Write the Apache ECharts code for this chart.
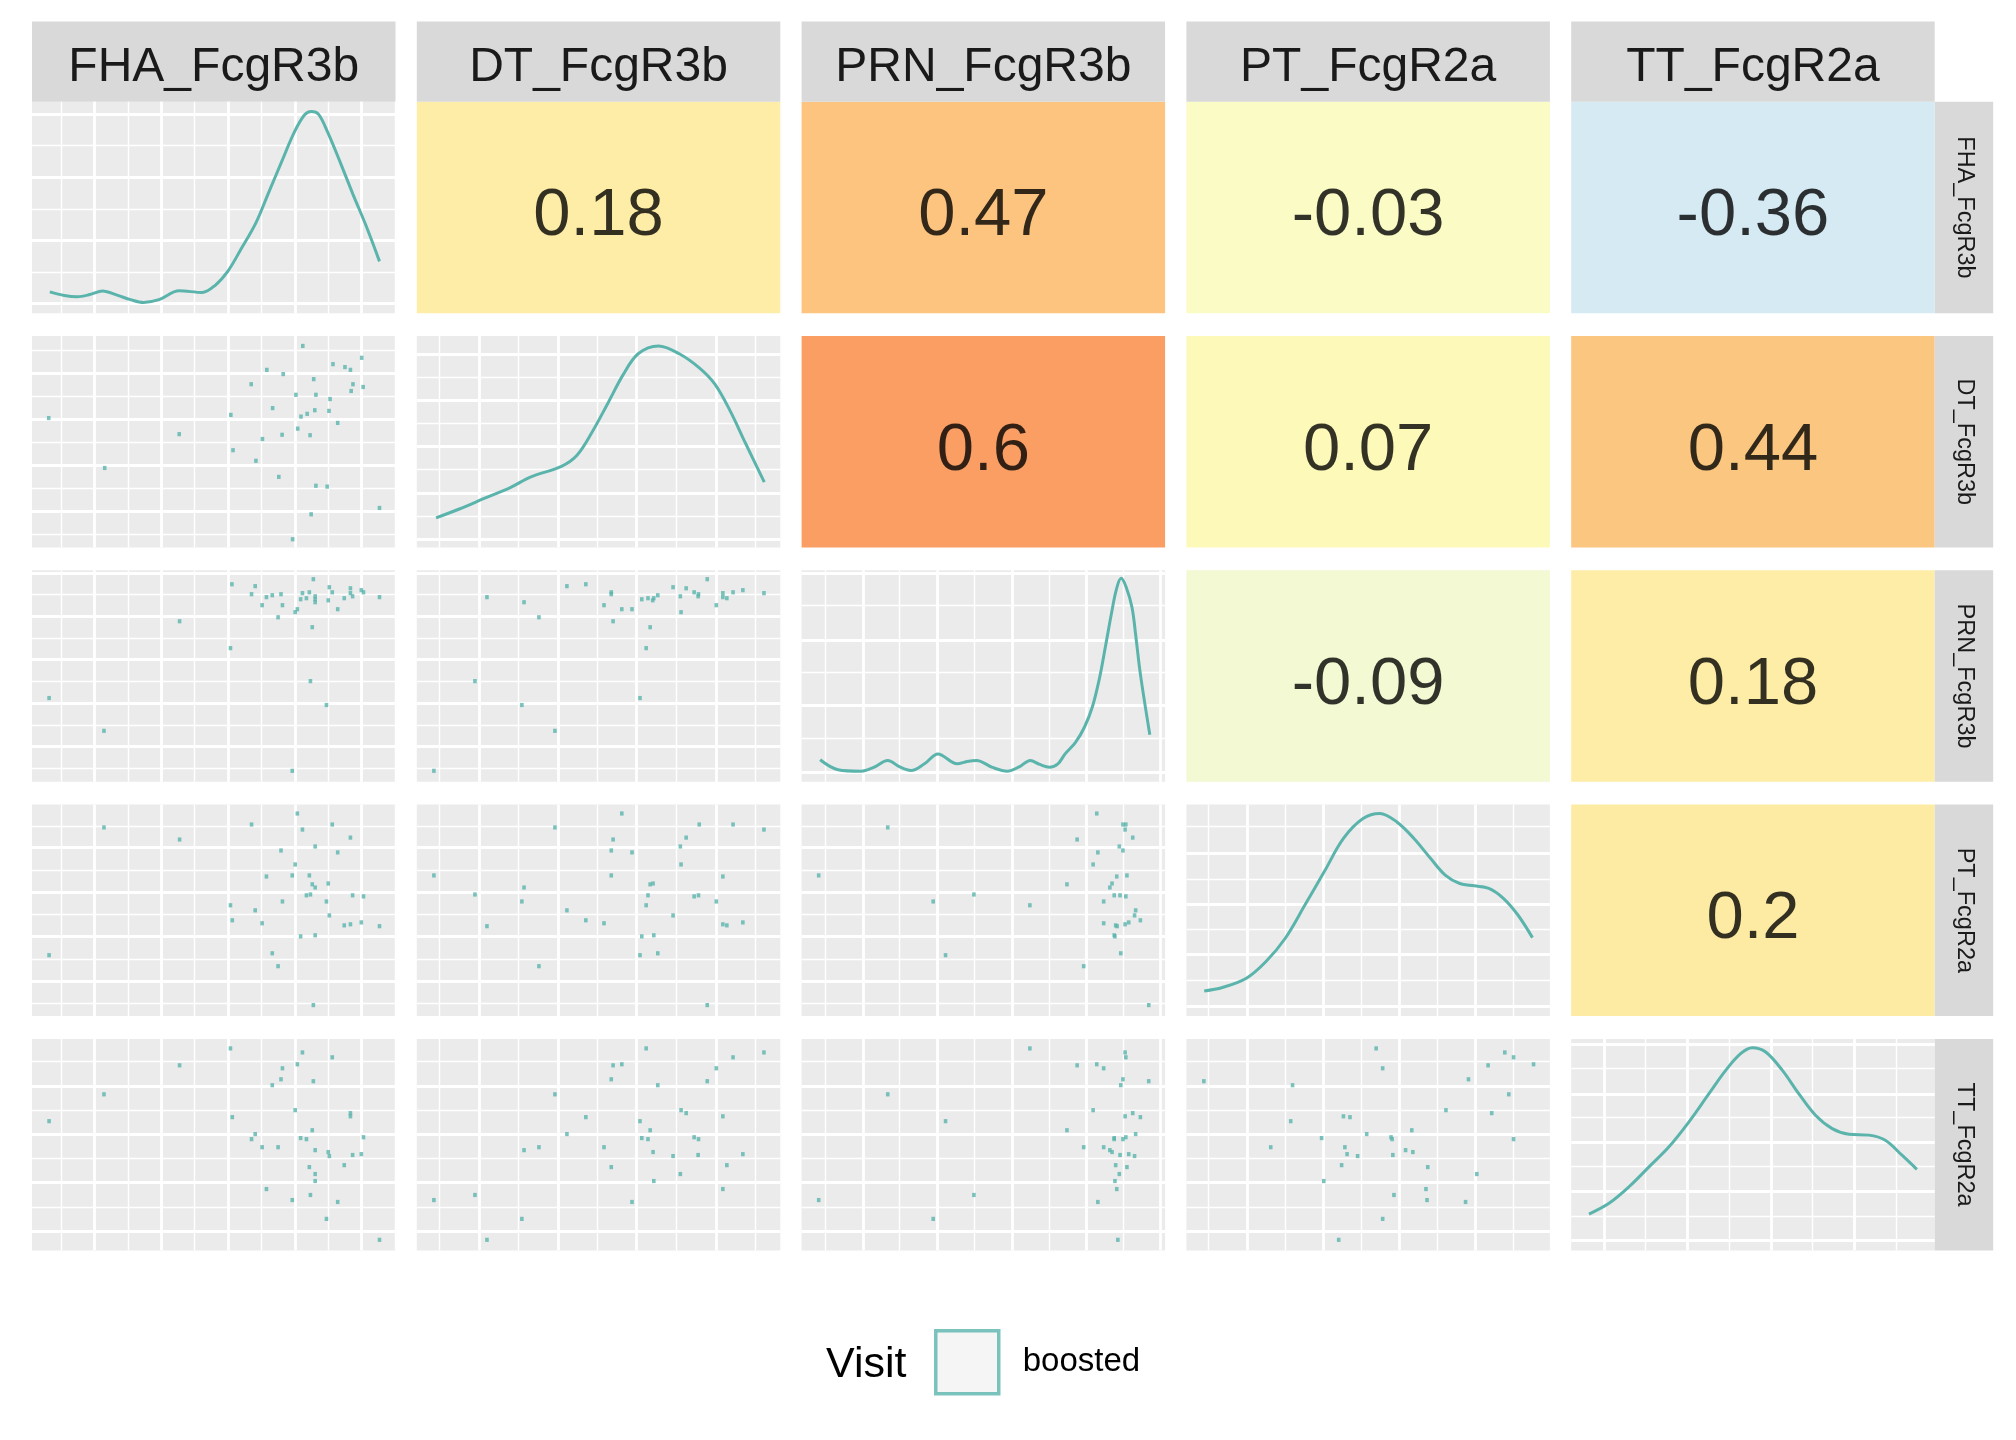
<!DOCTYPE html>
<html><head><meta charset="utf-8">
<script src="https://cdn.jsdelivr.net/npm/echarts@6/dist/echarts.min.js"></script>
<style>html,body{margin:0;padding:0;background:#fff}#c{width:2016px;height:1440px}</style>
</head><body><div id="c"></div>
<script>
// ---------- DATA (all values on each variable's 0–100 plotted scale) ----------
const variables = ['FHA_FcgR3b','DT_FcgR3b','PRN_FcgR3b','PT_FcgR2a','TT_FcgR2a'];
const shortNames = ['FHA','DT','PRN','PT','TT'];
const legendTitle = 'Visit';
const groupName = 'boosted';

// variable scale break positions (major / minor grid lines)
const majorBreaks = {FHA:[17.2,35.6,53.9,72.3,90.6], DT:[17.1,38.8,60.5,82.4], PRN:[16.9,37.3,58.0,78.4,98.7], PT:[16.7,37.6,58.5,79.6], TT:[9.0,32.0,54.9,77.8]};
const minorBreaks = {FHA:[8.0,26.4,44.7,63.1,81.4,99.8], DT:[6.3,27.9,49.7,71.5,93.2], PRN:[6.5,26.9,47.5,68.0,88.6], PT:[6.1,27.1,48.0,69.0,90.0], TT:[20.5,43.4,66.4,89.3]};
// density-axis break positions for diagonal panels
const densMajor = {FHA:[4.5,34.4,64.3,94.2], DT:[3.9,25.8,47.7,69.7,91.6], PRN:[4.7,36.0,67.1,98.4], PT:[4.7,29.1,53.0,77.2], TT:[4.8,27.9,51.3,74.0,97.6]};
const densMinor = {FHA:[19.4,49.3,79.2], DT:[14.8,36.8,58.7,80.6], PRN:[20.6,51.9,83.5], PT:[17.0,41.2,64.9,89.6], TT:[16.3,39.7,63.0,86.1]};

// correlations (upper triangle) and tile colours
const corrValues = [
  [null,'0.18','0.47','-0.03','-0.36'],
  [null,null,'0.6','0.07','0.44'],
  [null,null,null,'-0.09','0.18'],
  [null,null,null,null,'0.2'],
  [null,null,null,null,null]
];
const corrColors = [
  [null,'#FEEDA6','#FCC47E','#FAFBC5','#D5EAF3'],
  [null,null,'#FA9E64','#FDFAB9','#FBC680'],
  [null,null,null,'#F3F9D2','#FEEDA6'],
  [null,null,null,null,'#FEEBA3'],
  [null,null,null,null,null]
];

// density curves [x, density]
const dens_FHA = [[4.9,10.1],[8.9,8.4],[12.4,7.8],[15.9,8.8],[19.4,10.5],[23.6,8.4],[27.1,6.4],[30.7,5.1],[34.9,6.4],[40.5,10.6],[46.8,9.8],[50.4,13.2],[53.9,19.9],[57.4,30.0],[61.6,42.7],[65.1,57.0],[68.6,71.3],[72.2,85.7],[75.0,93.8],[76.8,95.4],[78.8,94.1],[81.3,85.7],[84.8,71.3],[88.3,56.2],[91.8,41.8],[95.6,24.5]];
const dens_DT = [[5.3,14.0],[11.7,18.2],[18.7,23.3],[25.7,28.3],[31.4,33.4],[39.8,38.4],[44.0,43.5],[48.2,54.5],[52.5,68.0],[56.7,81.5],[60.9,91.6],[66.5,95.3],[72.2,91.6],[77.8,84.8],[82.0,77.2],[86.2,64.6],[90.4,49.4],[95.6,30.9]];
const dens_PRN = [[5.1,10.4],[10.0,5.7],[16.3,5.0],[19.8,6.8],[23.7,10.1],[27.0,7.0],[30.1,5.3],[33.8,8.5],[37.5,13.2],[42.8,8.5],[45.5,9.6],[48.1,10.1],[52.5,6.8],[56.6,5.0],[60.0,7.2],[62.9,10.1],[65.5,8.2],[68.2,6.9],[70.5,8.5],[72.5,13.2],[75.3,18.5],[77.8,25.8],[80.0,35.5],[82.0,49.4],[83.7,65.0],[85.2,79.2],[86.6,91.0],[87.9,96.2],[89.3,92.0],[90.9,82.4],[92.0,68.0],[93.2,50.9],[95.8,22.2]];
const dens_PT = [[4.9,11.9],[9.9,13.5],[16.5,17.9],[21.9,25.8],[27.2,36.8],[32.6,52.5],[37.9,68.2],[43.2,84.0],[48.6,93.4],[53.2,95.8],[57.9,91.8],[62.6,84.0],[67.2,74.5],[71.2,66.7],[75.2,62.7],[79.2,61.6],[83.2,60.4],[87.2,55.7],[91.2,47.8],[95.2,37.1]];
const dens_TT = [[4.9,17.2],[10.4,22.3],[15.9,30.1],[21.4,39.5],[26.9,49.0],[32.4,60.8],[37.9,74.1],[42.5,85.1],[46.6,93.0],[49.8,95.8],[53.5,93.8],[58.1,85.1],[62.6,74.1],[67.2,63.9],[71.8,57.6],[76.4,54.9],[81.9,54.5],[86.4,52.1],[91.0,45.0],[95.1,38.3]];

// scatter points [x variable, y variable]
const pts_FHA_DT = [[74.5,95.3],[90.7,89.7],[82.8,86.7],[86.1,85.3],[87.6,84.0],[64.6,84.0],[69.1,82.0],[77.5,79.6],[60.3,77.2],[88.3,77.2],[91.1,75.9],[87.8,74.0],[72.6,72.2],[78.1,72.2],[82.0,70.2],[66.2,65.9],[77.8,64.9],[81.7,64.6],[75.7,63.2],[74.0,61.9],[4.6,61.2],[54.7,62.7],[84.1,58.9],[40.5,53.6],[73.1,56.2],[68.8,53.3],[76.5,53.1],[63.4,51.3],[55.3,46.0],[61.6,41.0],[20.0,37.6],[67.9,33.4],[78.1,29.2],[81.2,28.8],[95.6,18.7],[76.8,15.7],[71.7,3.9]];
const pts_FHA_PRN = [[55.0,93.4],[61.4,92.5],[77.4,95.8],[81.8,92.0],[87.6,91.5],[90.6,90.6],[91.2,89.6],[60.4,88.7],[64.5,87.3],[66.1,88.2],[68.5,88.7],[74.4,89.2],[76.3,89.6],[82.6,89.6],[87.6,89.2],[88.2,87.7],[73.9,86.3],[75.5,86.8],[77.9,87.7],[77.9,86.3],[77.9,84.9],[81.5,85.8],[85.9,86.8],[95.6,87.3],[63.3,83.5],[68.9,83.5],[73.0,81.6],[72.4,80.2],[84.1,81.6],[67.7,77.8],[40.6,75.9],[77.1,73.1],[54.6,63.2],[76.6,47.6],[4.7,39.6],[81.0,36.3],[19.8,24.1],[71.6,5.2]];
const pts_DT_PRN = [[41.3,92.5],[46.5,93.4],[79.9,95.8],[19.3,87.3],[29.5,84.9],[53.5,89.6],[53.5,88.7],[51.5,83.5],[56.4,81.6],[59.2,81.6],[33.6,77.8],[54.0,75.9],[61.9,86.3],[63.6,86.8],[64.9,85.8],[65.2,86.8],[66.3,88.2],[70.5,92.0],[72.5,87.7],[74.1,91.5],[76.3,89.6],[77.5,88.7],[77.4,87.7],[72.7,80.2],[82.4,83.5],[84.2,89.2],[84.2,87.3],[85.3,86.8],[87.0,89.6],[89.7,90.6],[95.5,89.2],[64.2,73.1],[63.1,63.2],[16.0,47.6],[61.4,39.6],[28.9,36.3],[38.0,24.1],[4.7,5.2]];
const pts_FHA_PT = [[73.0,95.8],[19.8,89.2],[60.4,90.6],[82.6,90.6],[74.4,88.2],[40.6,83.5],[87.6,84.4],[77.9,80.2],[68.5,78.3],[84.1,77.4],[72.4,71.7],[64.5,66.0],[71.6,66.5],[76.3,66.5],[77.1,62.3],[77.9,60.8],[81.5,62.7],[75.5,57.1],[76.6,57.5],[88.2,57.1],[91.2,56.6],[68.9,54.2],[81.0,54.2],[54.6,52.4],[61.4,50.0],[81.8,47.6],[55.1,45.3],[63.3,43.9],[85.9,42.9],[87.6,43.4],[90.6,44.3],[95.6,42.5],[73.9,37.7],[77.9,38.2],[4.7,28.8],[66.1,29.7],[67.7,23.6],[77.4,5.2]];
const pts_DT_PT = [[56.4,95.8],[38.0,89.2],[77.7,90.6],[87.0,90.6],[95.5,88.2],[54.0,83.5],[74.1,84.4],[72.5,80.2],[53.5,78.3],[59.2,77.4],[72.7,71.7],[4.7,66.5],[53.5,66.5],[84.2,66.0],[64.2,62.3],[65.0,62.7],[29.5,60.8],[16.0,57.5],[63.6,57.1],[76.3,56.6],[77.5,57.1],[28.9,54.2],[82.4,54.2],[63.1,52.4],[41.3,50.0],[70.5,47.6],[46.5,45.3],[51.5,43.9],[19.3,42.5],[84.2,43.4],[85.3,42.9],[89.7,44.3],[61.9,37.7],[65.2,38.2],[61.4,28.8],[66.3,29.7],[33.6,23.6],[79.9,5.2]];
const pts_PRN_PT = [[81.2,95.8],[23.7,89.2],[88.4,90.6],[89.2,90.6],[89.0,88.2],[91.1,84.4],[75.8,83.5],[87.4,80.2],[88.4,78.3],[81.5,77.4],[80.2,71.7],[4.7,66.5],[86.7,66.0],[89.5,66.5],[73.0,62.3],[85.4,62.7],[84.8,60.8],[47.4,57.5],[86.0,57.1],[87.6,57.1],[89.2,56.6],[36.2,54.2],[83.1,54.2],[62.8,52.4],[91.9,50.0],[91.6,47.6],[93.2,45.3],[83.1,43.9],[86.4,42.9],[86.8,42.5],[89.0,43.4],[90.0,44.3],[86.0,38.2],[86.2,37.7],[39.6,28.8],[87.8,29.7],[77.6,23.6],[95.5,5.2]];
const pts_FHA_TT = [[54.6,95.5],[74.4,93.6],[82.6,91.3],[40.6,87.5],[73.0,88.0],[68.9,86.1],[68.5,80.9],[77.4,80.0],[66.1,78.1],[19.8,73.8],[72.4,66.3],[87.6,64.9],[87.6,63.4],[4.7,61.1],[55.1,63.0],[77.1,56.8],[61.4,55.0],[60.4,52.6],[73.9,53.1],[75.5,52.6],[91.2,53.5],[63.3,48.8],[67.7,48.8],[77.9,47.4],[81.5,46.5],[81.8,44.6],[88.2,45.1],[90.6,45.5],[85.9,40.3],[76.3,39.4],[77.9,36.1],[77.9,32.8],[64.5,29.0],[76.6,26.2],[71.6,23.8],[84.1,22.9],[81.0,14.9],[95.6,5.0]];
const pts_DT_TT = [[63.1,95.5],[95.5,93.6],[87.0,91.3],[54.0,87.5],[56.4,88.0],[82.4,86.1],[53.5,80.9],[79.9,80.0],[66.3,78.1],[38.0,73.8],[72.7,66.3],[74.1,64.9],[84.2,63.4],[46.5,63.0],[61.4,61.1],[64.2,56.8],[41.3,55.0],[61.9,53.1],[63.6,52.6],[76.3,53.5],[77.5,52.6],[29.5,47.4],[33.6,48.8],[51.5,48.8],[65.0,46.5],[70.5,44.6],[77.4,45.1],[89.7,45.5],[53.5,39.4],[85.3,40.3],[72.5,36.1],[65.2,32.8],[84.2,29.0],[4.7,23.8],[16.0,26.2],[59.2,22.9],[28.9,14.9],[19.3,5.0]];
const pts_PRN_TT = [[62.8,95.5],[89.0,93.6],[89.2,91.3],[75.8,87.5],[81.2,88.0],[83.1,86.1],[88.4,80.9],[95.5,80.0],[87.8,78.1],[23.7,73.8],[80.2,66.3],[91.1,64.9],[89.0,63.4],[93.2,63.0],[39.6,61.1],[73.0,56.8],[91.9,55.0],[86.0,53.1],[89.2,53.5],[88.4,52.6],[86.0,52.6],[77.6,48.8],[83.1,48.8],[84.8,47.4],[85.4,46.5],[87.6,45.1],[90.0,45.5],[91.6,44.6],[86.4,40.3],[89.5,39.4],[87.4,36.1],[86.2,32.8],[86.7,29.0],[4.7,23.8],[47.4,26.2],[81.5,22.9],[36.2,14.9],[87.0,5.0]];
const pts_PT_TT = [[52.2,95.5],[87.6,93.6],[90.0,91.3],[83.0,87.5],[95.5,88.0],[54.0,86.1],[77.6,80.9],[4.8,80.0],[29.2,78.1],[88.7,73.8],[71.4,66.3],[84.0,64.9],[43.2,63.4],[45.0,63.0],[28.7,61.1],[62.0,56.8],[49.6,55.0],[37.2,53.1],[56.3,53.5],[56.6,52.6],[90.0,52.6],[23.2,48.8],[43.6,48.8],[60.3,47.4],[62.3,46.5],[44.2,45.5],[47.1,44.6],[56.8,45.1],[42.7,40.3],[66.4,39.4],[79.9,36.1],[37.8,32.8],[65.9,29.0],[57.1,26.2],[66.2,23.8],[76.8,22.9],[54.0,14.9],[41.9,5.0]];

// ---------- BUILD ----------
const FONT = '"Liberation Sans", Arial, sans-serif';
const TEAL = '#5AB4AC';
const W = 363.5, H = 211.5;
const colX = [32, 416.8, 801.6, 1186.4, 1571.2];
const rowY = [101.7, 336.0, 570.3, 804.6, 1038.9];
const stripTop = 21.5, stripRightW = 58.5;

const densities = {FHA:dens_FHA, DT:dens_DT, PRN:dens_PRN, PT:dens_PT, TT:dens_TT};
const scatterPanels = {
  '1,0':pts_FHA_DT, '2,0':pts_FHA_PRN, '2,1':pts_DT_PRN,
  '3,0':pts_FHA_PT, '3,1':pts_DT_PT, '3,2':pts_PRN_PT,
  '4,0':pts_FHA_TT, '4,1':pts_DT_TT, '4,2':pts_PRN_TT, '4,3':pts_PT_TT
};

const grids = [], xAxes = [], yAxes = [], series = [], graphics = [];
function addGrid(r, c, bg) {
  grids.push({left: colX[c], top: rowY[r], width: W, height: H, show: true, backgroundColor: bg, borderWidth: 0});
  const i = grids.length - 1;
  xAxes.push({gridIndex: i, type: 'value', min: 0, max: 100, show: false, splitLine: {show: false}});
  yAxes.push({gridIndex: i, type: 'value', min: 0, max: 100, show: false, splitLine: {show: false}});
  return i;
}
function gridLineSeries(i, xMaj, xMin, yMaj, yMin) {
  const d = [];
  xMin.forEach(v => d.push({xAxis: v, lineStyle: {width: 1.4}}));
  yMin.forEach(v => d.push({yAxis: v, lineStyle: {width: 1.4}}));
  xMaj.forEach(v => d.push({xAxis: v, lineStyle: {width: 2.8}}));
  yMaj.forEach(v => d.push({yAxis: v, lineStyle: {width: 2.8}}));
  series.push({type: 'line', name: 'grid', xAxisIndex: i, yAxisIndex: i, data: [], z: 1, silent: true,
    markLine: {silent: true, z: 1, symbol: ['none', 'none'], label: {show: false}, animation: false,
      lineStyle: {color: '#FFFFFF', type: 'solid', opacity: 1}, emphasis: {disabled: true}, data: d}});
}

for (let r = 0; r < 5; r++) {
  for (let c = 0; c < 5; c++) {
    const xv = shortNames[c], yv = shortNames[r];
    if (r === c) {
      const i = addGrid(r, c, '#EBEBEB');
      gridLineSeries(i, majorBreaks[xv], minorBreaks[xv], densMajor[xv], densMinor[xv]);
      series.push({type: 'line', name: 'density', xAxisIndex: i, yAxisIndex: i, data: densities[xv], smooth: 0.35,
        showSymbol: false, symbol: 'none', z: 6, lineStyle: {color: TEAL, width: 3}, itemStyle: {color: TEAL}});
    } else if (r > c) {
      const i = addGrid(r, c, '#EBEBEB');
      gridLineSeries(i, majorBreaks[xv], minorBreaks[xv], majorBreaks[yv], minorBreaks[yv]);
      series.push({type: 'scatter', name: groupName, xAxisIndex: i, yAxisIndex: i, data: scatterPanels[r + ',' + c],
        symbol: 'rect', symbolSize: [3.6, 4.2], z: 6, itemStyle: {color: TEAL}});
    } else {
      const i = addGrid(r, c, corrColors[r][c]);
      series.push({type: 'scatter', name: 'corr', xAxisIndex: i, yAxisIndex: i, data: [[50, 45.6]],
        symbolSize: 1, z: 6, itemStyle: {color: 'rgba(0,0,0,0)'},
        label: {show: true, position: 'inside', formatter: corrValues[r][c], fontSize: 67, fontFamily: FONT, color: '#000000'}});
    }
  }
}

// strips
for (let c = 0; c < 5; c++) {
  graphics.push({type: 'rect', shape: {x: colX[c], y: stripTop, width: W, height: rowY[0] - stripTop}, style: {fill: '#D9D9D9'}, z: 0});
  graphics.push({type: 'text', x: colX[c] + W / 2, y: 67.5, style: {text: variables[c], fontSize: 48, fontFamily: FONT, fill: '#1A1A1A', align: 'center', verticalAlign: 'middle'}, z: 1});
}
const rx = colX[4] + W;
for (let r = 0; r < 5; r++) {
  graphics.push({type: 'rect', shape: {x: rx, y: rowY[r], width: stripRightW, height: H}, style: {fill: '#D9D9D9'}, z: 0});
  graphics.push({type: 'text', x: rx + stripRightW / 2 + 1, y: rowY[r] + H / 2, rotation: -Math.PI / 2,
    style: {text: variables[r], fontSize: 23.5, fontFamily: FONT, fill: '#1A1A1A', align: 'center', verticalAlign: 'middle'}, z: 1});
}
// legend title
graphics.push({type: 'text', x: 826, y: 1365, style: {text: legendTitle, fontSize: 43, fontFamily: FONT, fill: '#000000', align: 'left', verticalAlign: 'middle'}});

const chart = echarts.init(document.getElementById('c'), null, {renderer: 'canvas', width: 2016, height: 1440});
chart.setOption({
  animation: false,
  backgroundColor: '#FFFFFF',
  grid: grids, xAxis: xAxes, yAxis: yAxes, series: series,
  graphic: graphics,
  legend: {
    data: [{name: groupName, icon: 'rect'}], selectedMode: false, padding: 0,
    left: 934, top: 1329, itemWidth: 63, itemHeight: 63,
    itemStyle: {color: '#F2F2F2', borderColor: TEAL, borderWidth: 3.5},
    textStyle: {fontSize: 33, fontFamily: FONT, color: '#000000', padding: [7, 0, 0, 19]}
  }
});
</script></body></html>
